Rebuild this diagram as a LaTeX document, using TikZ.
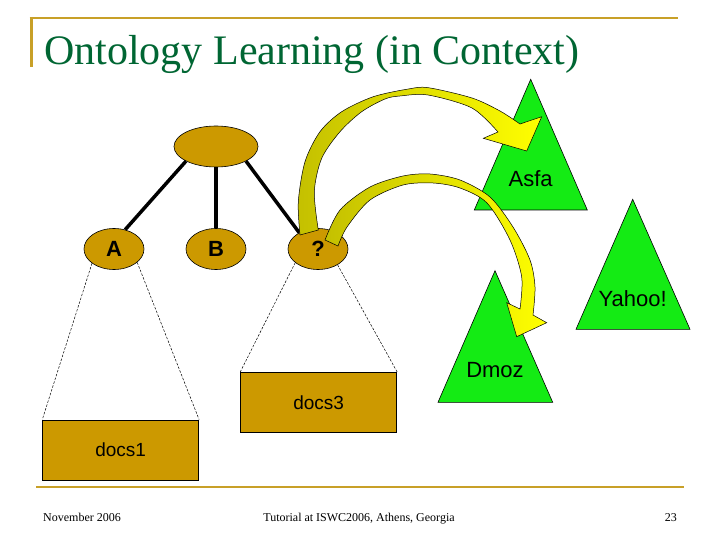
\documentclass[tikz,border=0pt]{standalone}
\usepackage{fontspec}
\setmainfont{Liberation Serif}
\newfontfamily\arialf{Liberation Sans}
\usetikzlibrary{shapes.geometric}
\definecolor{gold}{RGB}{204,153,0}
\definecolor{rulegold}{RGB}{200,160,40}
\definecolor{titlegreen}{RGB}{0,102,51}
\definecolor{treegreen}{RGB}{20,235,20}
\definecolor{arrowolive}{RGB}{196,192,0}
\definecolor{arrowyellow}{RGB}{255,255,0}
\begin{document}
\begin{tikzpicture}[x=1pt,y=-1pt,
  concept/.style={ellipse, draw=black, line width=0.6pt, fill=gold, inner sep=0pt,
    minimum width=60pt, minimum height=41pt, font=\arialf\bfseries\fontsize{22}{22}\selectfont},
  docbox/.style={rectangle, draw=black, line width=0.8pt, fill=gold, minimum width=156pt,
    minimum height=60pt, inner sep=0pt, font=\arialf\fontsize{19}{19}\selectfont},
  treeline/.style={line width=3.5pt},
  dashline/.style={dash pattern=on 2.5pt off 1.5pt, line width=0.5pt},
  source/.style={fill=treegreen, draw=black, line width=0.6pt},
  srclabel/.style={font=\arialf\fontsize{22}{22}\selectfont, inner sep=0pt},
  bigarrow/.style={draw=black, line width=0.5pt, left color=arrowolive, right color=arrowyellow},
  footer/.style={font=\fontsize{12}{12}\selectfont, inner sep=0pt, anchor=base}
]
\useasboundingbox[fill=white] (0,0) rectangle (720,540);

% header
\draw[rulegold, line width=2.5pt] (29.5,18) -- (678,18);
\draw[rulegold, line width=3pt] (31,17) -- (31,67);
\node[anchor=base west, inner sep=0pt, text=titlegreen, font=\fontsize{42}{42}\selectfont]
  (title) at (44,65) {Ontology Learning (in Context)};

% footer
\draw[rulegold, line width=2pt] (36,486.5) -- (684,486.5);
\node[footer, anchor=base west] (date) at (43,521) {November 2006};
\node[footer] (event) at (359,521) {Tutorial at ISWC2006, Athens, Georgia};
\node[footer, anchor=base east] (page) at (677,521) {23};

% concept tree
\node[concept, minimum width=84pt] (root) at (216,146.5) {};
\node[concept] (A) at (114,249) {A};
\node[concept] (B) at (216,249) {B};
\node[concept] (Q) at (318,249) {?};
\node[docbox] (docs1) at (120.7,450) {docs1};
\node[docbox] (docs3) at (318.7,402.3) {docs3};

\draw[treeline] (root.206) -- (A.60);
\draw[treeline] (root.south) -- (B.north);
\draw[treeline] (root.-26) -- (Q.139);

\draw[dashline] (A.213) -- (docs1.north west);
\draw[dashline] (A.-30) -- (docs1.north east);
\draw[dashline] (Q.211) -- (docs3.north west);
\draw[dashline] (Q.-39) -- (docs3.north east);

% source ontologies
\draw[source] (530.7,79.3) -- (587.3,210) -- (474.3,210) -- cycle;
\draw[source] (632.7,199.3) -- (690,329.3) -- (576,329.3) -- cycle;
\draw[source] (495,270.7) -- (552.7,402.3) -- (438,402.3) -- cycle;
\node[srclabel] (asfa) at (530.7,178.3) {Asfa};
\node[srclabel] (yahoo) at (632.7,298.3) {Yahoo!};
\node[srclabel] (dmoz) at (495,370) {Dmoz};

% curved block arrows
\path[bigarrow] (300,235) -- plot[smooth] coordinates {(300,235) (298.3,201.7) (305,161.7) (320,131.7) (341.7,111.7) (373.3,96.7) (408.3,89) (428.3,87.7) (472,98) (500,111) (520,124)}
  -- (541.7,116.7) -- (526.7,151) -- (483.3,138.3) -- (498,132)
  -- plot[smooth] coordinates {(498,132) (472,108) (428,95) (400,96) (385,99) (361.7,111.7) (340,131.7) (321.7,158.3) (314.3,191.7) (318.3,230)} -- cycle;

\path[bigarrow] (325,240) -- plot[smooth] coordinates {(325,240) (340,210) (370,187) (403,176) (430,174) (460,180) (490,197) (513,227) (530,260) (535,287) (533,315)}
  -- (546.7,322.7) -- (516.7,336.7) -- (506.7,302.7) -- (520,309)
  -- plot[smooth] coordinates {(520,309) (521.7,277) (510,240) (487,203) (460,188) (433,183) (403,185) (370,200) (347,227) (338,246)} -- cycle;
\end{tikzpicture}
\end{document}
